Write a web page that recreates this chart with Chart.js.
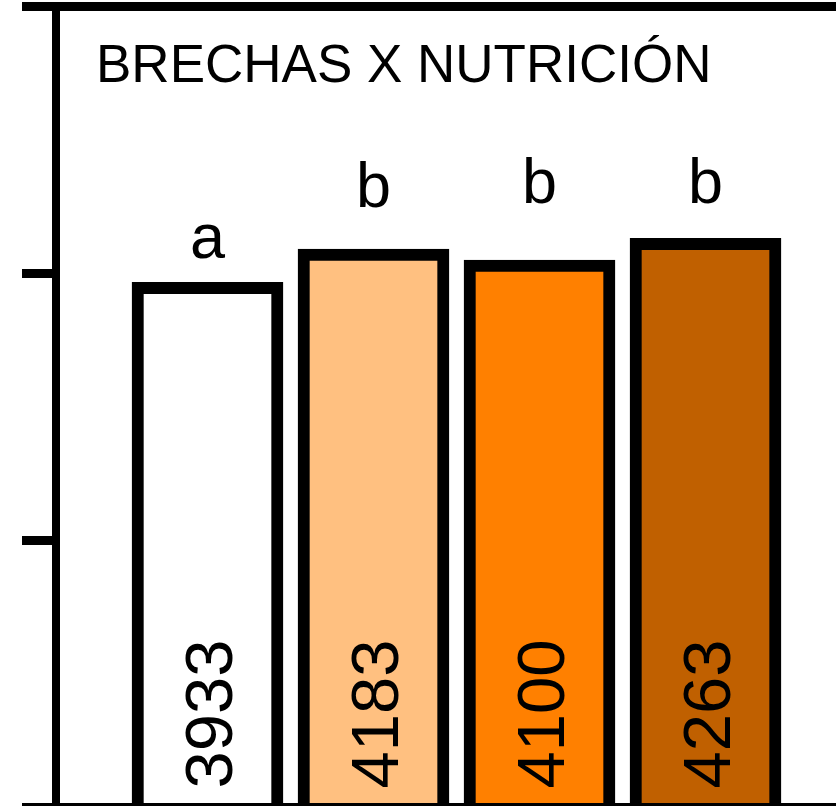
<!DOCTYPE html>
<html>
<head>
<meta charset="utf-8">
<script src="https://cdn.jsdelivr.net/npm/chart.js@4/dist/chart.umd.min.js"></script>
<style>
  html, body { margin: 0; padding: 0; background: #ffffff; overflow: hidden; }
  #wrap { position: relative; width: 836px; height: 812px; }
</style>
</head>
<body>
<div id="wrap"><canvas id="c"></canvas></div>
<script>
// Yield by nutrition treatment, with mean-separation letters
const categories = ['Nutrición 1', 'Nutrición 2', 'Nutrición 3', 'Nutrición 4'];
const yields = [3933, 4183, 4100, 4263];
const groups = ['a', 'b', 'b', 'b'];
const yTickValues = [0, 2000, 4000, 6000];

const barColors = ['#FFFFFF', '#FFC080', '#FF8000', '#C06000'];
const FONT = '"Liberation Sans", Arial, Helvetica, sans-serif';

// Title, group letters above the bars and rotated values inside them
const annotate = {
  id: 'annotate',
  afterDatasetsDraw(chart, args, opts) {
    const ctx = chart.ctx;
    const meta = chart.getDatasetMeta(0);
    ctx.save();
    ctx.fillStyle = '#000';
    ctx.textBaseline = 'alphabetic';

    ctx.font = `53px ${FONT}`;
    ctx.textAlign = 'left';
    ctx.fillText(opts.title, 96, 82);

    meta.data.forEach((bar, i) => {
      ctx.font = `63px ${FONT}`;
      ctx.textAlign = 'center';
      ctx.fillText(groups[i], bar.x, bar.y - opts.letterLift[i]);

      ctx.save();
      ctx.translate(bar.x + 24, bar.base - 14.5);
      ctx.rotate(-Math.PI / 2);
      ctx.font = `67px ${FONT}`;
      ctx.textAlign = 'left';
      ctx.fillText(String(yields[i]), 0, 0);
      ctx.restore();
    });
    ctx.restore();
  }
};

new Chart(document.getElementById('c'), {
  type: 'bar',
  data: {
    datasets: [{
      label: 'Rendimiento',
      data: categories.map((c, i) => ({ x: i + 1, y: yields[i] })),
      backgroundColor: barColors,
      borderColor: '#000000',
      borderWidth: 12,
      borderSkipped: 'start',
      barThickness: 151
    }]
  },
  options: {
    responsive: true,
    maintainAspectRatio: false,
    animation: false,
    layout: { padding: { top: 6.5, left: 0, right: 0, bottom: 4.5 } },
    plugins: {
      legend: { display: false },
      tooltip: { enabled: false },
      title: { display: false },
      annotate: {
        title: 'BRECHAS X NUTRICIÓN',
        letterLift: [24, 42, 57, 35]
      }
    },
    scales: {
      x: {
        type: 'linear',
        position: 'bottom',
        offset: false,
        min: 0.0873,
        max: 4.7861,
        afterFit: s => { s.height = 0; },
        ticks: { display: false },
        grid: { display: false, drawTicks: false, offset: false },
        border: { display: true, color: '#000000', width: 9 }
      },
      x2: {
        type: 'linear',
        position: 'top',
        offset: false,
        afterFit: s => { s.height = 0; },
        ticks: { display: false },
        grid: { display: false, drawTicks: false },
        border: { display: true, color: '#000000', width: 9 }
      },
      y: {
        min: 0,
        max: 6000,
        afterFit: s => { s.width = 56; },
        afterBuildTicks: s => { s.ticks = yTickValues.map(v => ({ value: v })); },
        ticks: { display: false },
        grid: {
          drawOnChartArea: false,
          drawTicks: true,
          tickLength: 34,
          tickWidth: 9,
          tickColor: '#000000',
          lineWidth: 9,
          color: '#000000'
        },
        border: { display: true, color: '#000000', width: 8 }
      }
    }
  },
  plugins: [annotate]
});
</script>
</body>
</html>
